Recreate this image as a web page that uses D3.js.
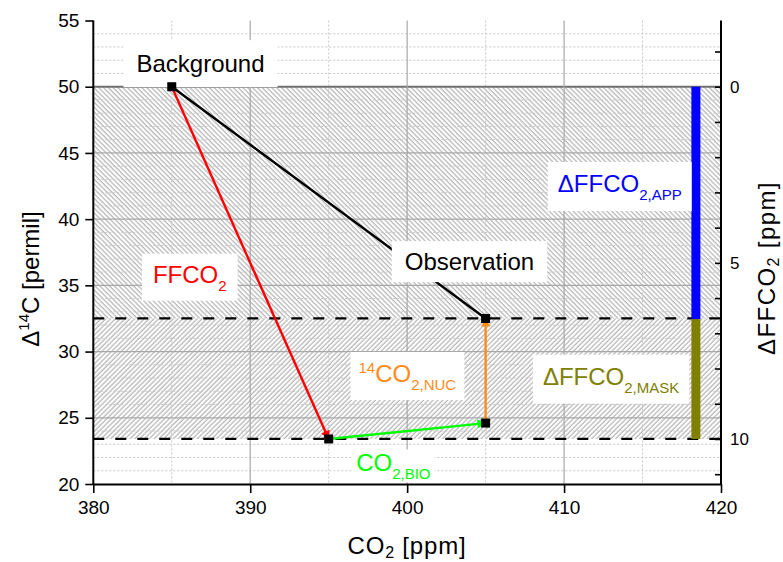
<!DOCTYPE html>
<html>
<head>
<meta charset="utf-8">
<script src="https://cdn.jsdelivr.net/npm/d3@7"></script>
<style>
body { margin:0; background:#fff; }
text { font-family: "Liberation Sans", Arial, sans-serif; }
</style>
</head>
<body>
<script>
// points: Background, Observation, after FFCO2, after CO2 bio
var pointNames = ["Background", "Observation", "FFCO2 end", "BIO end"];
var pointCO2 = [385, 405, 395, 405];
var pointD14C = [50, 32.5, 23.4, 24.6];
// segments as [from, to, colour, arrow]
var segFrom = [0, 0, 2, 3];
var segTo = [1, 2, 3, 1];
var segColor = ["#000000", "#ff0000", "#00ff00", "#ff8c1a"];
var segArrow = [false, true, true, true];

// hatched bands in permil
var bandTop = [50, 32.5];
var bandBottom = [32.5, 23.4];
// right axis bars in ppm
var barStart = [0, 6.6];
var barEnd = [6.6, 10];
var barColor = ["#0000ff", "#808000"];

var xTicks = [380, 390, 400, 410, 420];
var xMinor = [385, 395, 405, 415];
var yTicks = [20, 25, 30, 35, 40, 45, 50, 55];
var y2Labels = [0, 5, 10];

var W = 783, H = 562;
var pL = 93.3, pR = 721, pT = 20.5, pB = 484;

var svg = d3.select("body").append("svg").attr("width", W).attr("height", H);

var x = d3.scaleLinear().domain([380, 420]).range([pL, pR]);
var y = d3.scaleLinear().domain([20, 55]).range([pB, pT]);
var y2 = d3.scaleLinear().domain([0, 10]).range([y(50), y(23.4)]);

var defs = svg.append("defs");
function hatch(id, angle) {
  var p = defs.append("pattern").attr("id", id)
    .attr("patternUnits", "userSpaceOnUse")
    .attr("width", 3.4).attr("height", 10)
    .attr("patternTransform", "rotate(" + angle + ")");
  p.append("line").attr("x1", 1).attr("x2", 1).attr("y1", 0).attr("y2", 10)
    .attr("stroke", "#9a9a9a").attr("stroke-width", 0.9);
}
hatch("hatchA", -45);
hatch("hatchB", 45);

segColor.forEach(function(c, i) {
  defs.append("marker").attr("id", "arr" + i)
    .attr("viewBox", "0 0 10 10").attr("refX", 9).attr("refY", 5)
    .attr("markerUnits", "userSpaceOnUse")
    .attr("markerWidth", 11).attr("markerHeight", 9)
    .attr("orient", "auto")
    .append("path").attr("d", "M0,0 L10,5 L0,10 Z").attr("fill", c);
});

// bands
svg.selectAll("rect.band").data(bandTop).enter().append("rect")
  .attr("class", "band")
  .attr("x", pL).attr("width", pR - pL)
  .attr("y", function(d) { return y(d); })
  .attr("height", function(d, i) { return y(bandBottom[i]) - y(d); })
  .attr("fill", function(d, i) { return i == 0 ? "url(#hatchA)" : "url(#hatchB)"; });

// minor grid
var yMinor = d3.range(21, 55).filter(function(v) { return v % 5 != 0; });
svg.selectAll("line.gmy").data(yMinor).enter().append("line")
  .attr("x1", pL).attr("x2", pR)
  .attr("y1", function(d) { return y(d); }).attr("y2", function(d) { return y(d); })
  .attr("stroke", "#c8c8c8").attr("stroke-width", 1).attr("stroke-dasharray", "2,2");
svg.selectAll("line.gmx").data(xMinor).enter().append("line")
  .attr("y1", pT).attr("y2", pB)
  .attr("x1", function(d) { return x(d); }).attr("x2", function(d) { return x(d); })
  .attr("stroke", "#c8c8c8").attr("stroke-width", 1).attr("stroke-dasharray", "2,2");

// major grid
svg.selectAll("line.gy").data(yTicks.slice(1, -1)).enter().append("line")
  .attr("x1", pL).attr("x2", pR)
  .attr("y1", function(d) { return y(d); }).attr("y2", function(d) { return y(d); })
  .attr("stroke", function(d) { return d == 50 ? "#707070" : "#a8a8a8"; })
  .attr("stroke-width", function(d) { return d == 50 ? 2 : 1.2; });
svg.selectAll("line.gx").data(xTicks.slice(1, -1)).enter().append("line")
  .attr("y1", pT).attr("y2", pB)
  .attr("x1", function(d) { return x(d); }).attr("x2", function(d) { return x(d); })
  .attr("stroke", "#a8a8a8").attr("stroke-width", 1.2);

// dashed band borders
svg.selectAll("line.dash").data([bandBottom[0], bandBottom[1]]).enter().append("line")
  .attr("x1", pL).attr("x2", pR)
  .attr("y1", function(d) { return y(d); }).attr("y2", function(d) { return y(d); })
  .attr("stroke", "#000").attr("stroke-width", 2.2).attr("stroke-dasharray", "11,11");

// bars on right
svg.selectAll("rect.bar").data(barStart).enter().append("rect")
  .attr("x", x(418.4) - 4.5).attr("width", 9)
  .attr("y", function(d) { return y2(d); })
  .attr("height", function(d, i) { return y2(barEnd[i]) - y2(d); })
  .attr("fill", function(d, i) { return barColor[i]; });

// lines
svg.selectAll("line.seg").data(segFrom).enter().append("line")
  .attr("x1", function(d) { return x(pointCO2[d]); })
  .attr("y1", function(d) { return y(pointD14C[d]); })
  .attr("x2", function(d, i) { return x(pointCO2[segTo[i]]); })
  .attr("y2", function(d, i) { return y(pointD14C[segTo[i]]); })
  .attr("stroke", function(d, i) { return segColor[i]; })
  .attr("stroke-width", 2.4)
  .attr("marker-end", function(d, i) { return segArrow[i] ? "url(#arr" + i + ")" : null; });

// labels with white boxes
var labels = svg.append("g");
function addLabel(cx, cy, parts, color, padX, padY) {
  var g = labels.append("g");
  var box = g.append("rect").attr("fill", "#fff");
  var t = g.append("text").attr("x", x(cx)).attr("y", y(cy)).attr("fill", color);
  parts.forEach(function(p) {
    var s = t.append("tspan").text(p[0]);
    if (p[1] == "sub") s.attr("font-size", 15).attr("dy", 8);
    else if (p[1] == "sup") s.attr("font-size", 15).attr("dy", -9);
    else s.attr("font-size", 24).attr("dy", p[2] || 0);
  });
  var b = t.node().getBBox();
  box.attr("x", b.x - padX).attr("y", b.y - padY)
    .attr("width", b.width + 2 * padX).attr("height", b.height + 2 * padY);
}
addLabel(382.75, 51.1, [["Background"]], "#000", 13, 10);
addLabel(399.85, 36.15, [["Observation"]], "#000", 13, 7);
addLabel(383.8, 35.2, [["FFCO"], ["2", "sub"]], "#ff0000", 11, 7);
addLabel(396.9, 27.7, [["14", "sup"], ["CO", null, 9], ["2,NUC", "sub"]], "#ff8c1a", 8, 7);
addLabel(396.75, 20.95, [["CO"], ["2,BIO", "sub"]], "#00ff00", 4, 0);
addLabel(409.6, 42.05, [["\u0394FFCO"], ["2,APP", "sub"]], "#0000ff", 10, 8);
addLabel(408.65, 27.5, [["\u0394FFCO"], ["2,MASK", "sub"]], "#808000", 10, 8);

// markers
svg.selectAll("rect.pt").data(pointCO2).enter().append("rect")
  .attr("x", function(d) { return x(d) - 4.5; })
  .attr("y", function(d, i) { return y(pointD14C[i]) - 4.5; })
  .attr("width", 9).attr("height", 9).attr("fill", "#000");

// axes
var gl = svg.append("g").attr("transform", "translate(" + pL + ",0)");
gl.call(d3.axisLeft(y).tickValues(d3.range(20, 56)).tickSize(5).tickFormat(""));
gl.call(d3.axisLeft(y).tickValues(yTicks).tickSize(8).tickSizeOuter(0).tickPadding(6).tickFormat(d3.format("d")));
var gb = svg.append("g").attr("transform", "translate(0," + pB + ")");
gb.call(d3.axisBottom(x).tickValues(xMinor).tickSize(6).tickFormat(""));
gb.call(d3.axisBottom(x).tickValues(xTicks).tickSize(9).tickSizeOuter(0).tickPadding(8).tickFormat(d3.format("d")));
var gr = svg.append("g").attr("transform", "translate(" + pR + ",0)");
gr.call(d3.axisRight(y2).tickValues(d3.range(-1, 12)).tickSizeInner(-6).tickSizeOuter(0)
  .tickPadding(9).tickFormat(function(d) { return y2Labels.indexOf(d) >= 0 ? d : ""; }));
gr.select(".domain").attr("d", "M0," + pT + "V" + pB);
gl.selectAll(".domain").attr("d", "M0," + pT + "V" + pB);

svg.selectAll(".domain").attr("stroke", "#000").attr("stroke-width", 2);
svg.selectAll(".tick line").attr("stroke", "#000").attr("stroke-width", 1.6);
gl.selectAll(".tick text").attr("font-size", 19).attr("fill", "#000");
gb.selectAll(".tick text").attr("font-size", 19).attr("fill", "#000");
gr.selectAll(".tick text").attr("font-size", 17).attr("fill", "#000");
svg.selectAll(".tick text").attr("font-family", "Liberation Sans, Arial, sans-serif");

// axis titles
var tl = svg.append("text").attr("transform", "translate(39,279) rotate(-90)")
  .attr("text-anchor", "middle").attr("font-size", 24);
tl.append("tspan").text("\u0394");
tl.append("tspan").text("14").attr("font-size", 15).attr("dy", -10);
tl.append("tspan").text("C [permil]").attr("dy", 10);

var tb = svg.append("text").attr("x", 407).attr("y", 554)
  .attr("text-anchor", "middle").attr("font-size", 24).attr("letter-spacing", 0.8);
tb.append("tspan").text("CO");
tb.append("tspan").text("2").attr("font-size", 16).attr("dy", 4);
tb.append("tspan").text(" [ppm]").attr("dy", -4);

var tr = svg.append("text").attr("transform", "translate(775,268) rotate(-90)")
  .attr("text-anchor", "middle").attr("font-size", 24).attr("letter-spacing", 1.4);
tr.append("tspan").text("\u0394FFCO");
tr.append("tspan").text("2").attr("font-size", 16).attr("dy", 4);
tr.append("tspan").text(" [ppm]").attr("dy", -4);
</script>
</body>
</html>
